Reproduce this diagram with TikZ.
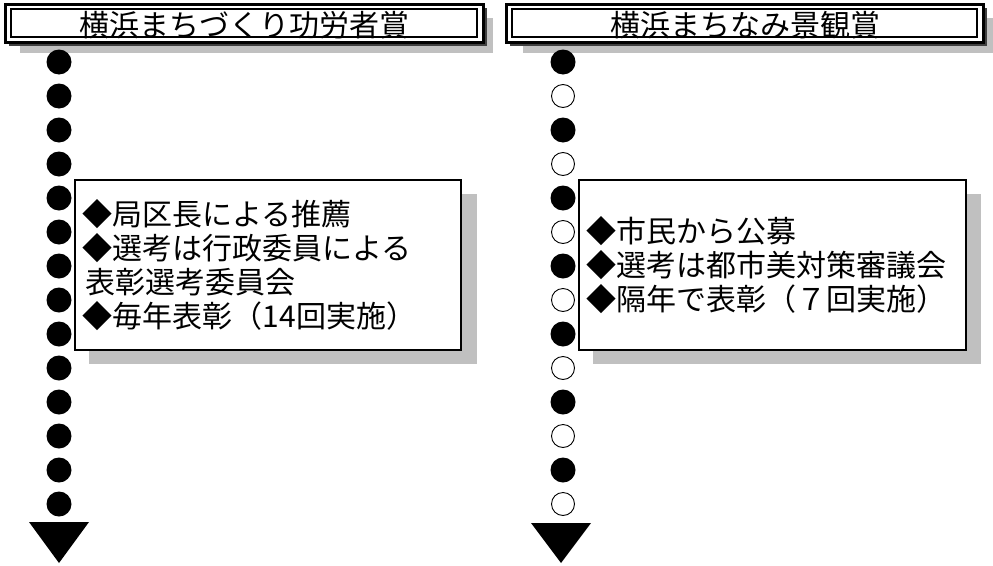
\documentclass[tikz,border=0pt]{standalone}
\usepackage{fontspec}
\usepackage{xcolor}
\usepackage{tikz}
\usetikzlibrary{positioning}
\newfontfamily\jpfont{Noto Sans CJK JP}
\definecolor{shadelight}{HTML}{C0C0C0}
\definecolor{shadedark}{HTML}{404040}

\begin{document}
\begin{tikzpicture}[x=1pt, y=-1pt,
        every node/.style={font=\jpfont},
        titletext/.style={font=\jpfont\fontsize{30}{30}\selectfont, inner sep=0pt},
        fdot/.style={circle, fill=black, minimum size=25pt, inner sep=0pt},
        odot/.style={circle, draw=black, line width=0.9pt, fill=white, minimum size=23pt, inner sep=0pt},
        infobox/.style={draw=black, line width=1.6pt, fill=white, anchor=north west,
            text width=370pt, inner xsep=8pt, minimum height=170pt, align=left,
            font=\jpfont\fontsize{30}{34}\selectfont}
    ]
    \useasboundingbox (0,0) rectangle (993,565);

    % ============ title bars ============
    \fill[shadelight] (20,18) rectangle (493,53);
    \fill[shadedark] (9,8) rectangle (487,46);
    \fill[white] (5,4) rectangle (483,42);
    \draw[line width=3pt] (5,4) rectangle (483,42);
    \draw[line width=1.2pt] (11,9) rectangle (477,37);
    \node[titletext] (t1) at (244,25) {横浜まちづくり功労者賞};

    \fill[shadelight] (523,18) rectangle (993,53);
    \fill[shadedark] (510,8) rectangle (987,46);
    \fill[white] (506,4) rectangle (983,42);
    \draw[line width=3pt] (506,4) rectangle (983,42);
    \draw[line width=1.2pt] (512,9) rectangle (977,37);
    \node[titletext] (t2) at (745,25) {横浜まちなみ景観賞};

    % ============ left column ============
    \foreach \i in {1,...,14}
    \node[fdot] (l\i) at (59,28+34*\i) {};
    \fill (29,522) -- (89,522) -- (59,563) -- cycle;

    \fill[shadelight] (89,194) rectangle (477,364);
    \node[infobox] (lbox) at (74,179)
    {◆局区長による推薦\\◆選考は行政委員による\\\hspace*{3pt}表彰選考委員会\\◆毎年表彰（14回実施）};

    % ============ right column ============
    \foreach \i in {1,3,...,13}
    \node[fdot] (r\i) at (563,28+34*\i) {};
    \foreach \i in {2,4,...,14}
    \node[odot] (r\i) at (563,28+34*\i) {};
    \fill (531,523) -- (591,523) -- (561,563) -- cycle;

    \fill[shadelight] (593,194) rectangle (981,364);
    \node[infobox, text width=371pt] (rbox) at (578,179)
    {◆市民から公募\\◆選考は都市美対策審議会\\◆隔年で表彰（７回実施）};
\end{tikzpicture}
\end{document}
